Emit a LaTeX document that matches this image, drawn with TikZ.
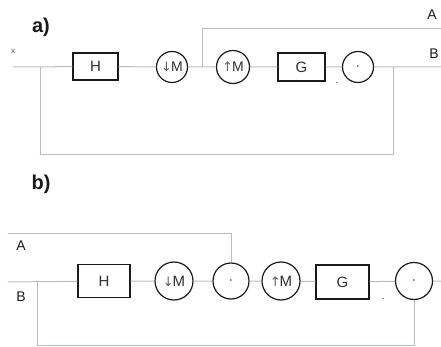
\documentclass[tikz,border=0pt]{standalone}
\usepackage{fontspec}
\setmainfont{Liberation Sans}
\newfontfamily\arrowfont{DejaVu Sans}
\usetikzlibrary{positioning}
\definecolor{sigGray}{HTML}{B7BECB}
\definecolor{blkInk}{HTML}{1A1A1A}
\definecolor{lblInk}{HTML}{2B2F3A}
\definecolor{arrGray}{HTML}{5F5F5F}
\newcommand{\dnM}{{\arrowfont\color{arrGray}\fontsize{13}{13}\selectfont↓}\kern-1ptM}
\newcommand{\upM}{{\arrowfont\color{arrGray}\fontsize{13}{13}\selectfont↑}\kern-1ptM}
\newcommand{\mulDot}{{\fontsize{6}{6}\selectfont\textbullet}}
\tikzset{
  every picture/.style={text=lblInk},
  sig line/.style={draw=sigGray, line width=1pt},
  filt box/.style={draw=blkInk, line width=1.4pt, inner sep=0pt,
    font=\fontsize{15}{17}\selectfont},
  rate circ/.style={circle, draw=blkInk, line width=1.2pt, inner sep=0pt,
    font=\fontsize{14}{16}\selectfont},
  io label/.style={font=\fontsize{14}{16}\selectfont, text=blkInk},
  part label/.style={font=\fontsize{20}{22}\selectfont\bfseries, text=blkInk},
  tick mark/.style={font=\fontsize{9}{9}\selectfont, text=arrGray}
}
\begin{document}
\begin{tikzpicture}[x=1pt,y=-1pt]
  \useasboundingbox (0,0) rectangle (441,347);
  \node[part label] (aLbl) at (41,27) {a)};
  \node[tick mark, font=\fontsize{8}{8}\selectfont] (xLbl) at (13,51) {x};
  \coordinate (aIn) at (13,67);
  \node[filt box, minimum width=45pt, minimum height=27pt] (aH) at (95.5,66.5) {H};
  \node[rate circ, minimum size=31pt] (aDown) at (172,67) {\dnM};
  \coordinate (aSplit) at (202,67);
  \node[rate circ, minimum size=33pt] (aUp) at (233,67) {\upM};
  \node[filt box, minimum width=47pt, minimum height=28pt] (aG) at (301.5,67) {G};
  \node[rate circ, minimum size=31pt] (aMul) at (358,67) {\mulDot};
  \coordinate (aTap) at (393,67);
  \coordinate (aOut) at (441,67);
  \coordinate (aOutA) at (441,29);
  \coordinate (aLow) at (40,155);
  \coordinate (aJoin) at (40,67);
  \node[io label] (aA) at (432,15) {A};
  \node[io label] (aB) at (434,54) {B};
  \node[tick mark] (aMinus) at (337,84) {-};
  \draw[sig line] (aIn) -- (aH) -- (aDown) -- (aUp) -- (aG) -- (aMul) -- (aOut);
  \draw[sig line] (aSplit) |- (aOutA);
  \draw[sig line] (aTap) |- (aLow) -- (aJoin);

  \node[part label] (bLbl) at (41,184) {b)};
  \coordinate (bAIn) at (8,233);
  \coordinate (bIn) at (8,282);
  \node[io label] (bA) at (21,246) {A};
  \node[io label] (bB) at (21,297) {B};
  \node[filt box, minimum width=52pt, minimum height=33pt] (bH) at (104,281) {H};
  \node[rate circ, minimum size=38pt, font=\fontsize{15}{17}\selectfont] (bDown) at (174,281) {\dnM};
  \node[rate circ, minimum size=36pt] (bMix) at (231,281) {\mulDot};
  \node[rate circ, minimum size=38pt, font=\fontsize{15}{17}\selectfont] (bUp) at (281,281) {\upM};
  \node[filt box, minimum width=53pt, minimum height=34pt] (bG) at (342.5,282) {G};
  \node[rate circ, minimum size=37pt] (bMul) at (414,281) {\mulDot};
  \coordinate (bOut) at (441,281);
  \coordinate (bLow) at (37,345);
  \coordinate (bJoin) at (37,281);
  \node[tick mark] (bMinus) at (383,300) {-};
  \draw[sig line] (bIn) -- (bH) -- (bDown) -- (bMix) -- (bUp) -- (bG) -- (bMul) -- (bOut);
  \draw[sig line] (bAIn) -| (bMix);
  \draw[sig line] (bMul) |- (bLow) -- (bJoin);
\end{tikzpicture}
\end{document}
